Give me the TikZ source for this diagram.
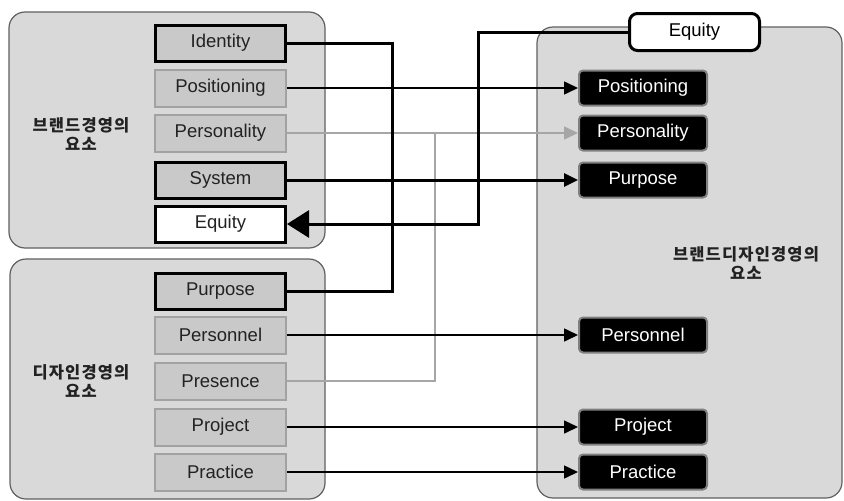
\documentclass[tikz,border=0pt]{standalone}
\usepackage{fontspec}
\setmainfont{Liberation Sans}
\newfontfamily\kor{Noto Sans CJK KR}[LetterSpace=7]
\usetikzlibrary{arrows.meta}
\definecolor{panelgray}{HTML}{D9D9D9}
\definecolor{boxgray}{HTML}{C9C9C9}
\definecolor{edgegray}{HTML}{A2A2A2}
\definecolor{linegray}{HTML}{A6A6A6}
\definecolor{txtgray}{HTML}{222222}

\begin{document}
\begin{tikzpicture}[x=1pt, y=-1pt,
    panel/.style={draw=gray!75!black, fill=panelgray, line width=1.2pt, rounded corners=16pt},
    elem/.style={draw=edgegray, fill=boxgray, line width=2pt, minimum width=131pt,
        minimum height=37pt, inner sep=0pt, text=txtgray, font=\fontsize{18.5}{21}\selectfont},
    keyelem/.style={elem, draw=black, line width=3pt, minimum width=130pt, minimum height=36pt},
    eqbox/.style={keyelem, fill=white},
    darkelem/.style={draw=gray, fill=black, line width=2pt, rounded corners=4pt, minimum width=128pt,
        minimum height=35pt, inner sep=0pt, text=white, font=\fontsize{18.5}{21}\selectfont},
    tab/.style={draw=black, fill=white, line width=3pt, rounded corners=8pt, minimum width=130pt,
        minimum height=37pt, inner sep=0pt, font=\fontsize{18.5}{21}\selectfont},
    grouplabel/.style={align=center, font=\kor\bfseries\fontsize{16.5}{19}\selectfont, text=txtgray},
    thin/.style={line width=1.6pt, -{Triangle[length=14pt,width=13pt]}},
    thick/.style={line width=3pt},
]
    \useasboundingbox (0, 0) rectangle (844, 501);
    % panels
    \draw [panel] (9, 12) rectangle (325, 248);
    \draw [panel] (10, 259) rectangle (325, 499);
    \draw [panel] (537, 27) rectangle (842, 498);
    \node [grouplabel] (brand) at (81, 134) {브랜드경영의\\요소};
    \node [grouplabel] (design) at (81, 381) {디자인경영의\\요소};
    \node [grouplabel] (both) at (746, 263) {브랜드디자인경영의\\요소};
    % brand management elements
    \node [keyelem] (lid) at (220.5, 43) {Identity};
    \node [elem] (lpos) at (220.5, 88) {Positioning};
    \node [elem] (lper) at (220.5, 133) {Personality};
    \node [keyelem] (lsys) at (220.5, 180) {System};
    \node [eqbox] (leq) at (220.5, 224) {Equity};
    % design management elements
    \node [keyelem] (lpur) at (220.5, 291) {Purpose};
    \node [elem] (lpnl) at (220.5, 335) {Personnel};
    \node [elem] (lpre) at (220.5, 381) {Presence};
    \node [elem] (lpro) at (220.5, 427) {Project};
    \node [elem] (lpra) at (220.5, 472) {Practice};
    % brand design management elements
    \node [tab] (req) at (694.5, 32) {Equity};
    \node [darkelem] (rpos) at (643, 88) {Positioning};
    \node [darkelem] (rper) at (643, 133) {Personality};
    \node [darkelem] (rpur) at (643, 180) {Purpose};
    \node [darkelem] (rpnl) at (643, 335) {Personnel};
    \node [darkelem] (rpro) at (643, 427) {Project};
    \node [darkelem] (rpra) at (643, 472) {Practice};
    % gray connectors
    \coordinate (prejoin) at (435, 133);
    \draw [thin, draw=linegray, fill=linegray] (lper.east) to (rper.west);
    \draw [line width=1.6pt, linegray] (lpre.east) -| (prejoin);
    % black connectors
    \draw [thick] (lid.east) -- ++(105, 0) |- (lpur.east);
    \draw [thin] (lpos.east) to (rpos.west);
    \draw [thick, -{Triangle[length=14pt,width=13pt]}] (lsys.east) to (rpur.west);
    \coordinate (eqturn) at (478, 224);
    \draw [thick, -{Triangle[length=22pt,width=27pt]}] (req.west) -| (eqturn) -- (leq.east);
    \draw [thin] (lpnl.east) to (rpnl.west);
    \draw [thin] (lpro.east) to (rpro.west);
    \draw [thin] (lpra.east) to (rpra.west);
\end{tikzpicture}
\end{document}
